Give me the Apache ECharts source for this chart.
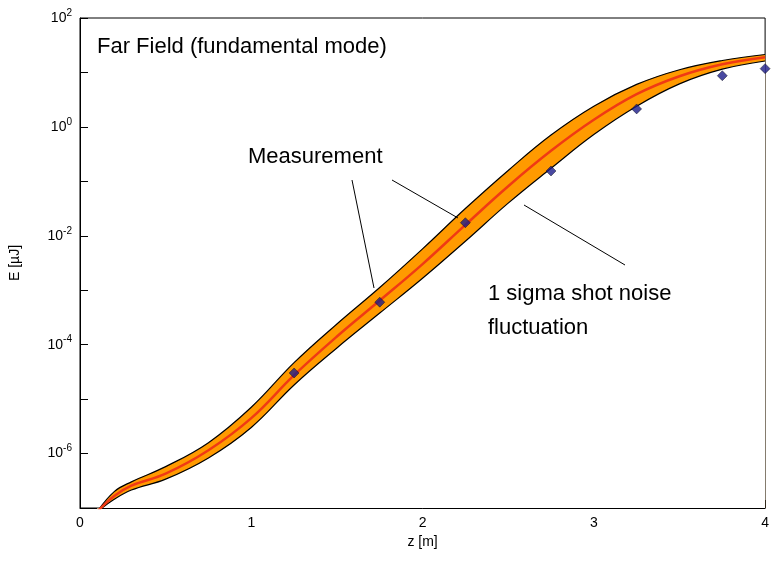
<!DOCTYPE html>
<html><head><meta charset="utf-8">
<script src="https://cdn.jsdelivr.net/npm/echarts@6/dist/echarts.min.js"></script>
<style>html,body{margin:0;padding:0;background:#fff}#c{width:772px;height:562px}</style>
</head><body><div id="c"></div>
<script>
// z positions [m]
const zLine = [0.1,0.2,0.3,0.5,0.75,1.0,1.25,1.5,1.75,2.0,2.25,2.5,2.75,3.0,3.25,3.5,3.75,4.0];
// log10(E/µJ) of the central (red) curve
const logMid = [-7.07,-6.78,-6.59,-6.37,-5.94,-5.35,-4.56,-3.85,-3.19,-2.52,-1.8,-1.09,-0.44,0.13,0.6,0.93,1.15,1.28];
// log10 of the +1 sigma band edge
const logUpper = [-7.07,-6.7,-6.52,-6.24,-5.8,-5.15,-4.33,-3.62,-2.95,-2.24,-1.5,-0.8,-0.15,0.38,0.78,1.05,1.22,1.33];
// log10 of the -1 sigma band edge
const logLower = [-7.07,-6.84,-6.67,-6.47,-6.08,-5.52,-4.74,-4.06,-3.42,-2.78,-2.1,-1.4,-0.76,-0.14,0.38,0.79,1.06,1.21];
// measured points
const zMeas = [1.25,1.75,2.25,2.75,3.25,3.75,4.0];
const logMeas = [-4.52,-3.22,-1.76,-0.81,0.33,0.94,1.07];
const yTickExp = [-6,-4,-2,0,2];

const toPts = (xs, ls) => xs.map((x,i)=>[x, Math.pow(10, ls[i])]);
const font = 'Liberation Sans';
const chart = echarts.init(document.getElementById('c'));
chart.setOption({
  animation:false,
  grid:{left:78,right:6,top:18,bottom:54,show:true,borderColor:'#000',borderWidth:1},
  xAxis:{type:'value',min:0,max:4,interval:1,
    name:'z [m]',nameLocation:'middle',nameGap:18,nameTextStyle:{fontFamily:font,fontSize:14,color:'#000'},
    axisLine:{lineStyle:{color:'#000'}},axisTick:{inside:true,length:8,lineStyle:{color:'#000'}},
    minorTick:{show:true,splitNumber:5,length:4,lineStyle:{color:'#000'}},
    splitLine:{show:false},axisLabel:{fontFamily:font,fontSize:14,color:'#000',margin:8}},
  yAxis:{type:'log',logBase:10,min:1e-7,max:100,
    name:'E [µJ]',nameLocation:'middle',nameGap:58,nameTextStyle:{fontFamily:font,fontSize:14,color:'#000'},
    axisLine:{lineStyle:{color:'#000'}},axisTick:{inside:true,length:8,lineStyle:{color:'#000'}},
    splitLine:{show:false},
    axisLabel:{fontFamily:font,color:'#000',margin:8,
      formatter:v=>{const e=Math.round(Math.log10(v));return yTickExp.includes(e)?'{b|10}{s|'+e+'}':'';},
      rich:{b:{fontFamily:font,fontSize:14,color:'#000'},s:{fontFamily:font,fontSize:10,color:'#000',verticalAlign:'top',padding:[0,0,10,0]}}}},
  series:[
    {type:'line',data:toPts(zLine,logUpper),smooth:0.4,symbol:'none',lineStyle:{color:'#000',width:1.2},
      areaStyle:{color:'#ff9a00',opacity:1,origin:'start'},z:1},
    {type:'line',data:toPts(zLine,logLower),smooth:0.4,symbol:'none',lineStyle:{color:'#000',width:1.2},
      areaStyle:{color:'#fff',opacity:1,origin:'start'},z:2},
    {type:'line',data:toPts(zLine,logMid),smooth:0.4,symbol:'none',lineStyle:{color:'#f03a14',width:2.5},z:3},
    {type:'scatter',data:toPts(zMeas,logMeas),symbol:'diamond',symbolSize:10,
      itemStyle:{color:'#1b1b8a',borderColor:'#000',borderWidth:0.5},z:4}
  ],
  graphic:[
    {type:'text',left:97,top:36,z:100,style:{text:'Far Field (fundamental mode)',fontFamily:font,fontSize:22,fill:'#000'}},
    {type:'text',left:248,top:146,z:100,style:{text:'Measurement',fontFamily:font,fontSize:22,fill:'#000'}},
    {type:'text',left:488,top:283,z:100,style:{text:'1 sigma shot noise',fontFamily:font,fontSize:22,fill:'#000'}},
    {type:'text',left:488,top:317,z:100,style:{text:'fluctuation',fontFamily:font,fontSize:22,fill:'#000'}},
    {type:'line',z:100,shape:{x1:352,y1:180,x2:374,y2:288},style:{stroke:'#000',lineWidth:1}},
    {type:'line',z:100,shape:{x1:392,y1:180,x2:458,y2:218},style:{stroke:'#000',lineWidth:1}},
    {type:'line',z:100,shape:{x1:524,y1:205,x2:625,y2:265},style:{stroke:'#000',lineWidth:1}}
  ]
});
</script></body></html>
